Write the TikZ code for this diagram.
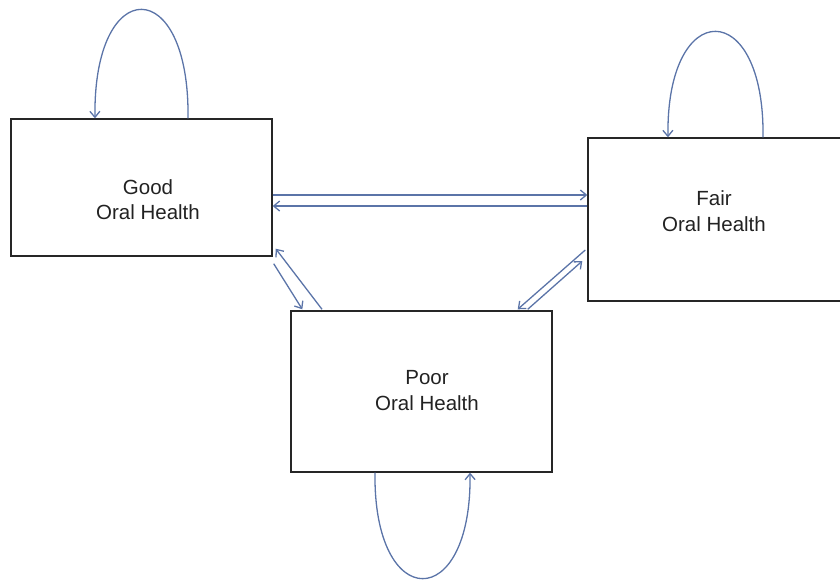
\documentclass[tikz,border=0pt]{standalone}
\usepackage{fontspec}
\setmainfont{Liberation Sans}
\usetikzlibrary{arrows.meta}
\definecolor{linkblue}{HTML}{5B74A8}
\definecolor{boxline}{HTML}{262626}
\definecolor{labeltext}{HTML}{222222}
\begin{document}
\begin{tikzpicture}[x=1pt,y=-1pt,
  state/.style={draw=boxline,line width=1.4pt,rectangle,inner sep=0pt},
  caption/.style={text=labeltext,align=center,inner sep=0pt,
    font=\fontsize{20.5}{25.5}\selectfont},
  link/.style={draw=linkblue,line width=1.3pt,
    -{Straight Barb[length=6pt,width=10pt,line width=1.3pt]}}]
\useasboundingbox (0,0) rectangle (840,579);

% states
\node[state,minimum width=261pt,minimum height=137pt] (good) at (141.5,187.5) {};
\node[state,minimum width=257pt,minimum height=163pt] (fair) at (716.5,219.5) {};
\node[state,minimum width=261pt,minimum height=161pt] (poor) at (421.5,391.5) {};

% state names
\node[caption] (goodtxt) at (148,199.5) {Good\\Oral Health};
\node[caption] (fairtxt) at (714,211) {Fair\\Oral Health};
\node[caption] (poortxt) at (427,390.5) {Poor\\Oral Health};

% transitions between Good and Fair
\draw[link] ([yshift=-7.5pt]good.east) -- ([yshift=24.5pt]fair.west);
\draw[link] ([yshift=13.5pt]fair.west) -- ([yshift=-18.5pt]good.east);

% transitions between Good and Poor
\draw[link] ([xshift=-99.5pt,yshift=1pt]poor.north) -- ([xshift=3pt,yshift=8pt]good.south east);
\draw[link] ([xshift=1pt,yshift=-7pt]good.south east) -- ([xshift=12pt,yshift=1pt]poor.north west);

% transitions between Fair and Poor
\draw[link] ([xshift=-2pt,yshift=-30.5pt]fair.west) -- ([xshift=-35pt,yshift=1pt]poor.north east);
\draw[link] ([xshift=-25pt,yshift=1pt]poor.north east) -- ([xshift=-5pt,yshift=-41.5pt]fair.west);

% self transitions
\draw[link] ([xshift=46.5pt]good.north) .. controls +(2,-145) and +(-2,-145) .. ([xshift=-46.5pt]good.north);
\draw[link] ([xshift=46.5pt]fair.north) .. controls +(2,-141) and +(-2,-141) .. ([xshift=-48.5pt]fair.north);
\draw[link] ([xshift=-46.5pt]poor.south) .. controls +(-2,141) and +(2,141) .. ([xshift=48.5pt]poor.south);
\end{tikzpicture}
\end{document}
